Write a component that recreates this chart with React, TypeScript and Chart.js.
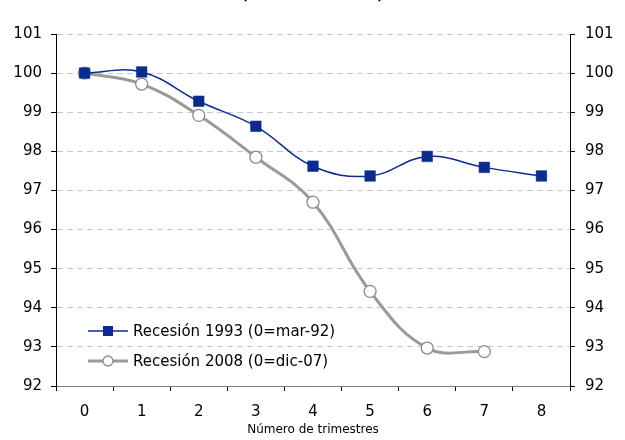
import React, { useEffect, useRef } from "react";
import { Chart, registerables } from "chart.js";

Chart.register(...registerables);

const categories = ["0", "1", "2", "3", "4", "5", "6", "7", "8"];
const recession1993 = [100, 100.03, 99.28, 98.64, 97.62, 97.37, 97.87, 97.59, 97.37];
const recession2008 = [100, 99.72, 98.92, 97.85, 96.7, 94.42, 92.97, 92.88, null];
const seriesLabels = ["Recesión 1993 (0=mar-92)", "Recesión 2008 (0=dic-07)"];
const xTitle = "Número de trimestres";
const topTitle = "(trimestre 0 = 100)";

const FONT = "'DejaVu Sans', sans-serif";
const BLUE = "#0B2C8C";
const GRAY = "#9a9a9a";

const legendPlugin = {
  id: "innerLegend",
  afterDraw(chart: any) {
    const ctx = chart.ctx;
    const rows = [
      { y: 331, label: seriesLabels[0], ds: chart.data.datasets[0] },
      { y: 361, label: seriesLabels[1], ds: chart.data.datasets[1] },
    ];
    ctx.save();
    rows.forEach((r, i) => {
      ctx.beginPath();
      ctx.strokeStyle = r.ds.borderColor;
      ctx.lineWidth = r.ds.borderWidth;
      ctx.moveTo(88, r.y);
      ctx.lineTo(128, r.y);
      ctx.stroke();
      ctx.beginPath();
      if (i === 0) {
        ctx.fillStyle = BLUE;
        ctx.fillRect(103, r.y - 5, 10, 10);
      } else {
        ctx.fillStyle = "#fff";
        ctx.strokeStyle = "#8c8c8c";
        ctx.lineWidth = 1.3;
        ctx.arc(108, r.y, 5, 0, Math.PI * 2);
        ctx.fill();
        ctx.stroke();
      }
      ctx.fillStyle = "#000";
      ctx.font = "15px " + FONT;
      ctx.textBaseline = "middle";
      ctx.textAlign = "left";
      ctx.fillText(r.label, 133, r.y + 1);
    });
    ctx.restore();
  },
};

export default function App() {
  const ref = useRef<HTMLCanvasElement | null>(null);
  useEffect(() => {
    if (!ref.current) return;
    const tickFont = { family: FONT, size: 15 };
    const chart = new Chart(ref.current, {
      type: "line",
      data: {
        labels: categories,
        datasets: [
          {
            label: seriesLabels[0],
            data: recession1993,
            borderColor: BLUE,
            borderWidth: 1.5,
            backgroundColor: BLUE,
            pointStyle: "rect",
            pointRadius: 7.5,
            pointBorderWidth: 0.5,
            pointBorderColor: BLUE,
            pointBackgroundColor: BLUE,
            tension: 0.4,
            yAxisID: "y",
          },
          {
            label: seriesLabels[1],
            data: recession2008,
            borderColor: GRAY,
            borderWidth: 3,
            backgroundColor: "#fff",
            pointStyle: "circle",
            pointRadius: 6,
            pointBorderWidth: 1.3,
            pointBorderColor: "#8c8c8c",
            pointBackgroundColor: "#fff",
            tension: 0.4,
            yAxisID: "y",
          },
        ],
      },
      options: {
        animation: false,
        responsive: true,
        maintainAspectRatio: false,
        layout: { padding: { top: 34, left: 0, right: 0, bottom: 0 } },
        plugins: {
          legend: { display: false },
          tooltip: { enabled: false },
          title: { display: false },
        },
        scales: {
          x: {
            type: "category",
            offset: true,
            grid: {
              display: true,
              offset: true,
              drawOnChartArea: false,
              drawTicks: true,
              tickLength: 5,
              tickColor: "#000",
            },
            border: { display: true, color: "#808080", width: 1 },
            ticks: { font: tickFont, color: "#000", padding: 12 },
            title: {
              display: true,
              text: xTitle,
              font: { family: FONT, size: 12 },
              color: "#000",
              padding: { top: 0, bottom: 3 },
            },
            afterFit(scale: any) {
              scale.height = 54;
            },
          },
          y: {
            position: "left",
            min: 92,
            max: 101,
            ticks: { stepSize: 1, font: tickFont, color: "#000", padding: 9 },
            grid: {
              color: "#c8c8c8",
              lineWidth: 1,
              tickLength: 5,
              tickColor: "#000",
              drawTicks: true,
            },
            border: { display: true, color: "#000", width: 1, dash: [6, 4] },
            afterFit(scale: any) {
              scale.width = 56;
            },
          },
          y2: {
            position: "right",
            min: 92,
            max: 101,
            ticks: { stepSize: 1, font: tickFont, color: "#000", padding: 10 },
            grid: {
              drawOnChartArea: false,
              tickLength: 5,
              tickColor: "#000",
              drawTicks: true,
            },
            border: { display: true, color: "#000", width: 1 },
            afterFit(scale: any) {
              scale.width = 55;
            },
          },
        },
      },
      plugins: [legendPlugin],
    } as any);
    return () => chart.destroy();
  }, []);

  return (
    <div
      style={{
        position: "fixed",
        left: 0,
        top: 0,
        width: 625,
        height: 440,
        overflow: "hidden",
        background: "#fff",
      }}
    >
      <div
        style={{
          position: "absolute",
          top: -12,
          left: 0,
          width: 625,
          textAlign: "center",
          fontFamily: FONT,
          fontWeight: "bold",
          fontSize: 13,
          lineHeight: "15px",
          color: "#000",
        }}
      >
        {topTitle}
      </div>
      <canvas ref={ref} width={625} height={440} />
    </div>
  );
}
